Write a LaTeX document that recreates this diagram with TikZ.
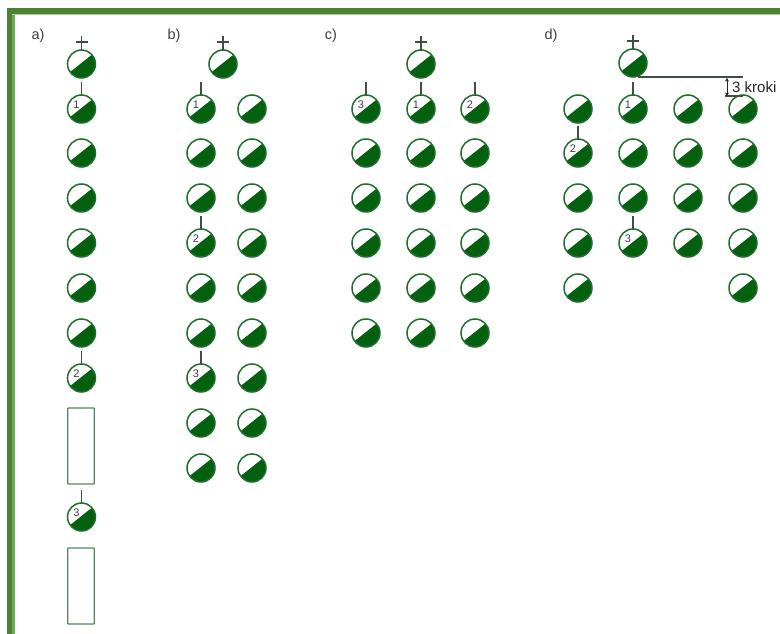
\documentclass[tikz,border=0pt]{standalone}
\usepackage{fontspec}
\setmainfont{Liberation Sans}
\usetikzlibrary{arrows.meta}
\definecolor{darkg}{HTML}{03600E}
\definecolor{ringg}{HTML}{1F6E2C}
\definecolor{boxg}{HTML}{4F8A5C}
\definecolor{frameo}{HTML}{4F8132}
\definecolor{framei}{HTML}{6FA860}
\definecolor{tickc}{HTML}{3F4F42}
\tikzset{
  x=1pt,y=-1pt,
  disc/.style={circle,draw=ringg,line width=1.5pt,minimum size=28pt,inner sep=0pt,outer sep=0pt,
    path picture={\fill[darkg] ([xshift=-17pt,yshift=-12.5pt]path picture bounding box.center)--([xshift=17pt,yshift=14.5pt]path picture bounding box.center)--([xshift=17pt,yshift=-17pt]path picture bounding box.center)--cycle;}},
  numlab/.style={font=\fontsize{11}{11}\selectfont,text=black!75,inner sep=0pt,xshift=-5pt,yshift=4pt},
  ticka/.style={draw=tickc,line width=1.3pt},
  slot/.style={draw=boxg,line width=1.4pt,rounded corners=0.5pt,inner sep=0pt,outer sep=0pt,minimum width=26.5pt,minimum height=76pt},
  head/.style={font=\fontsize{14.5}{14.5}\selectfont,text=black!75,inner sep=0pt},
}
\newcommand{\dsc}[3]{\node[disc] (#1) at (#2,#3) {};}
\newcommand{\dscn}[4]{\node[disc,label={[numlab]center:#4}] (#1) at (#2,#3) {};}
\newcommand{\tck}[1]{\path[ticka] (#1.north) -- ++(0,-13);}
\newcommand{\pls}[1]{\path[ticka] (#1.north) -- ++(0,-14) ++(-6,6) -- ++(12,0);}
\begin{document}
\begin{tikzpicture}
\useasboundingbox (0,0) rectangle (780,634);
\fill[white] (0,0) rectangle (780,634);
% frame
\fill[frameo] (7,8) rectangle (780,14);
\fill[frameo] (7,8) rectangle (12,634);
\fill[framei] (12,14) rectangle (15,634);
\fill[framei!60] (12,14) rectangle (780,15);
% headings
\node[head] (ha) at (38,36) {a)};
\node[head] (hb) at (174,36) {b)};
\node[head] (hc) at (331,36) {c)};
\node[head] (hd) at (551,36) {d)};
% a
\dsc{a0}{81.5}{64}
\dscn{a1}{81.5}{109}{1}
\foreach \n/\y in {2/153,3/198,4/243,5/288,6/333} {\dsc{a\n}{81.5}{\y}}
\dscn{a7}{81.5}{378}{2}
\node[slot] (ar1) at (81,446) {};
\dscn{a8}{81.5}{517}{3}
\node[slot] (ar2) at (81,586) {};
\pls{a0}\tck{a1}\tck{a7}\tck{a8}
% b
\dsc{b0}{223}{64}
\dscn{bl1}{201}{109}{1}
\foreach \n/\y in {2/153,3/198} {\dsc{bl\n}{201}{\y}}
\dscn{bl4}{201}{243}{2}
\foreach \n/\y in {5/288,6/333} {\dsc{bl\n}{201}{\y}}
\dscn{bl7}{201}{378}{3}
\foreach \n/\y in {8/423,9/468} {\dsc{bl\n}{201}{\y}}
\foreach \n/\y in {1/109,2/153,3/198,4/243,5/288,6/333,7/378,8/423,9/468} {\dsc{br\n}{252}{\y}}
\pls{b0}\tck{bl1}\tck{bl4}\tck{bl7}
% c
\dsc{c0}{421}{64}
\dscn{cl1}{366}{109}{3}
\dscn{cm1}{421}{109}{1}
\dscn{cr1}{475}{109}{2}
\foreach \n/\y in {2/153,3/198,4/243,5/288,6/333} {\dsc{cl\n}{366}{\y}\dsc{cm\n}{421}{\y}\dsc{cr\n}{475}{\y}}
\pls{c0}\tck{cl1}\tck{cm1}\tck{cr1}
% d
\dsc{d0}{633}{63}
\dsc{da1}{578}{109}
\dscn{da2}{578}{153}{2}
\dsc{da3}{578}{198}
\dsc{da4}{578}{243}
\dsc{da5}{578}{288}
\dscn{db1}{633}{109}{1}
\dsc{db2}{633}{153}
\dsc{db3}{633}{198}
\dscn{db4}{633}{243}{3}
\foreach \n/\y in {1/109,2/153,3/198,4/243} {\dsc{dc\n}{688}{\y}}
\foreach \n/\y in {1/109,2/153,3/198,4/243,5/288} {\dsc{dd\n}{743}{\y}}
\pls{d0}\tck{db1}\tck{da2}\tck{db4}
% dimension
\coordinate (dimtop) at (743,77);
\coordinate (dimr) at (743,96);
\coordinate (ua) at (727,78);
\coordinate (ub) at (727,96);
\draw[tickc,line width=1.4pt] (d0.south east) ++(-4,0) |- (dimtop);
\draw[tickc,line width=1.2pt] (dimr) -- ++(-18,0);
\draw[black!85,line width=0.9pt,{Stealth[length=3.5pt,width=4pt]}-{Stealth[length=3.5pt,width=4pt]}] (ua) -- (ub);
\node[anchor=west,inner sep=0pt,font=\fontsize{15}{15}\selectfont,text=black!85] (kr) at (732,87) {3 kroki};
\end{tikzpicture}
\end{document}
